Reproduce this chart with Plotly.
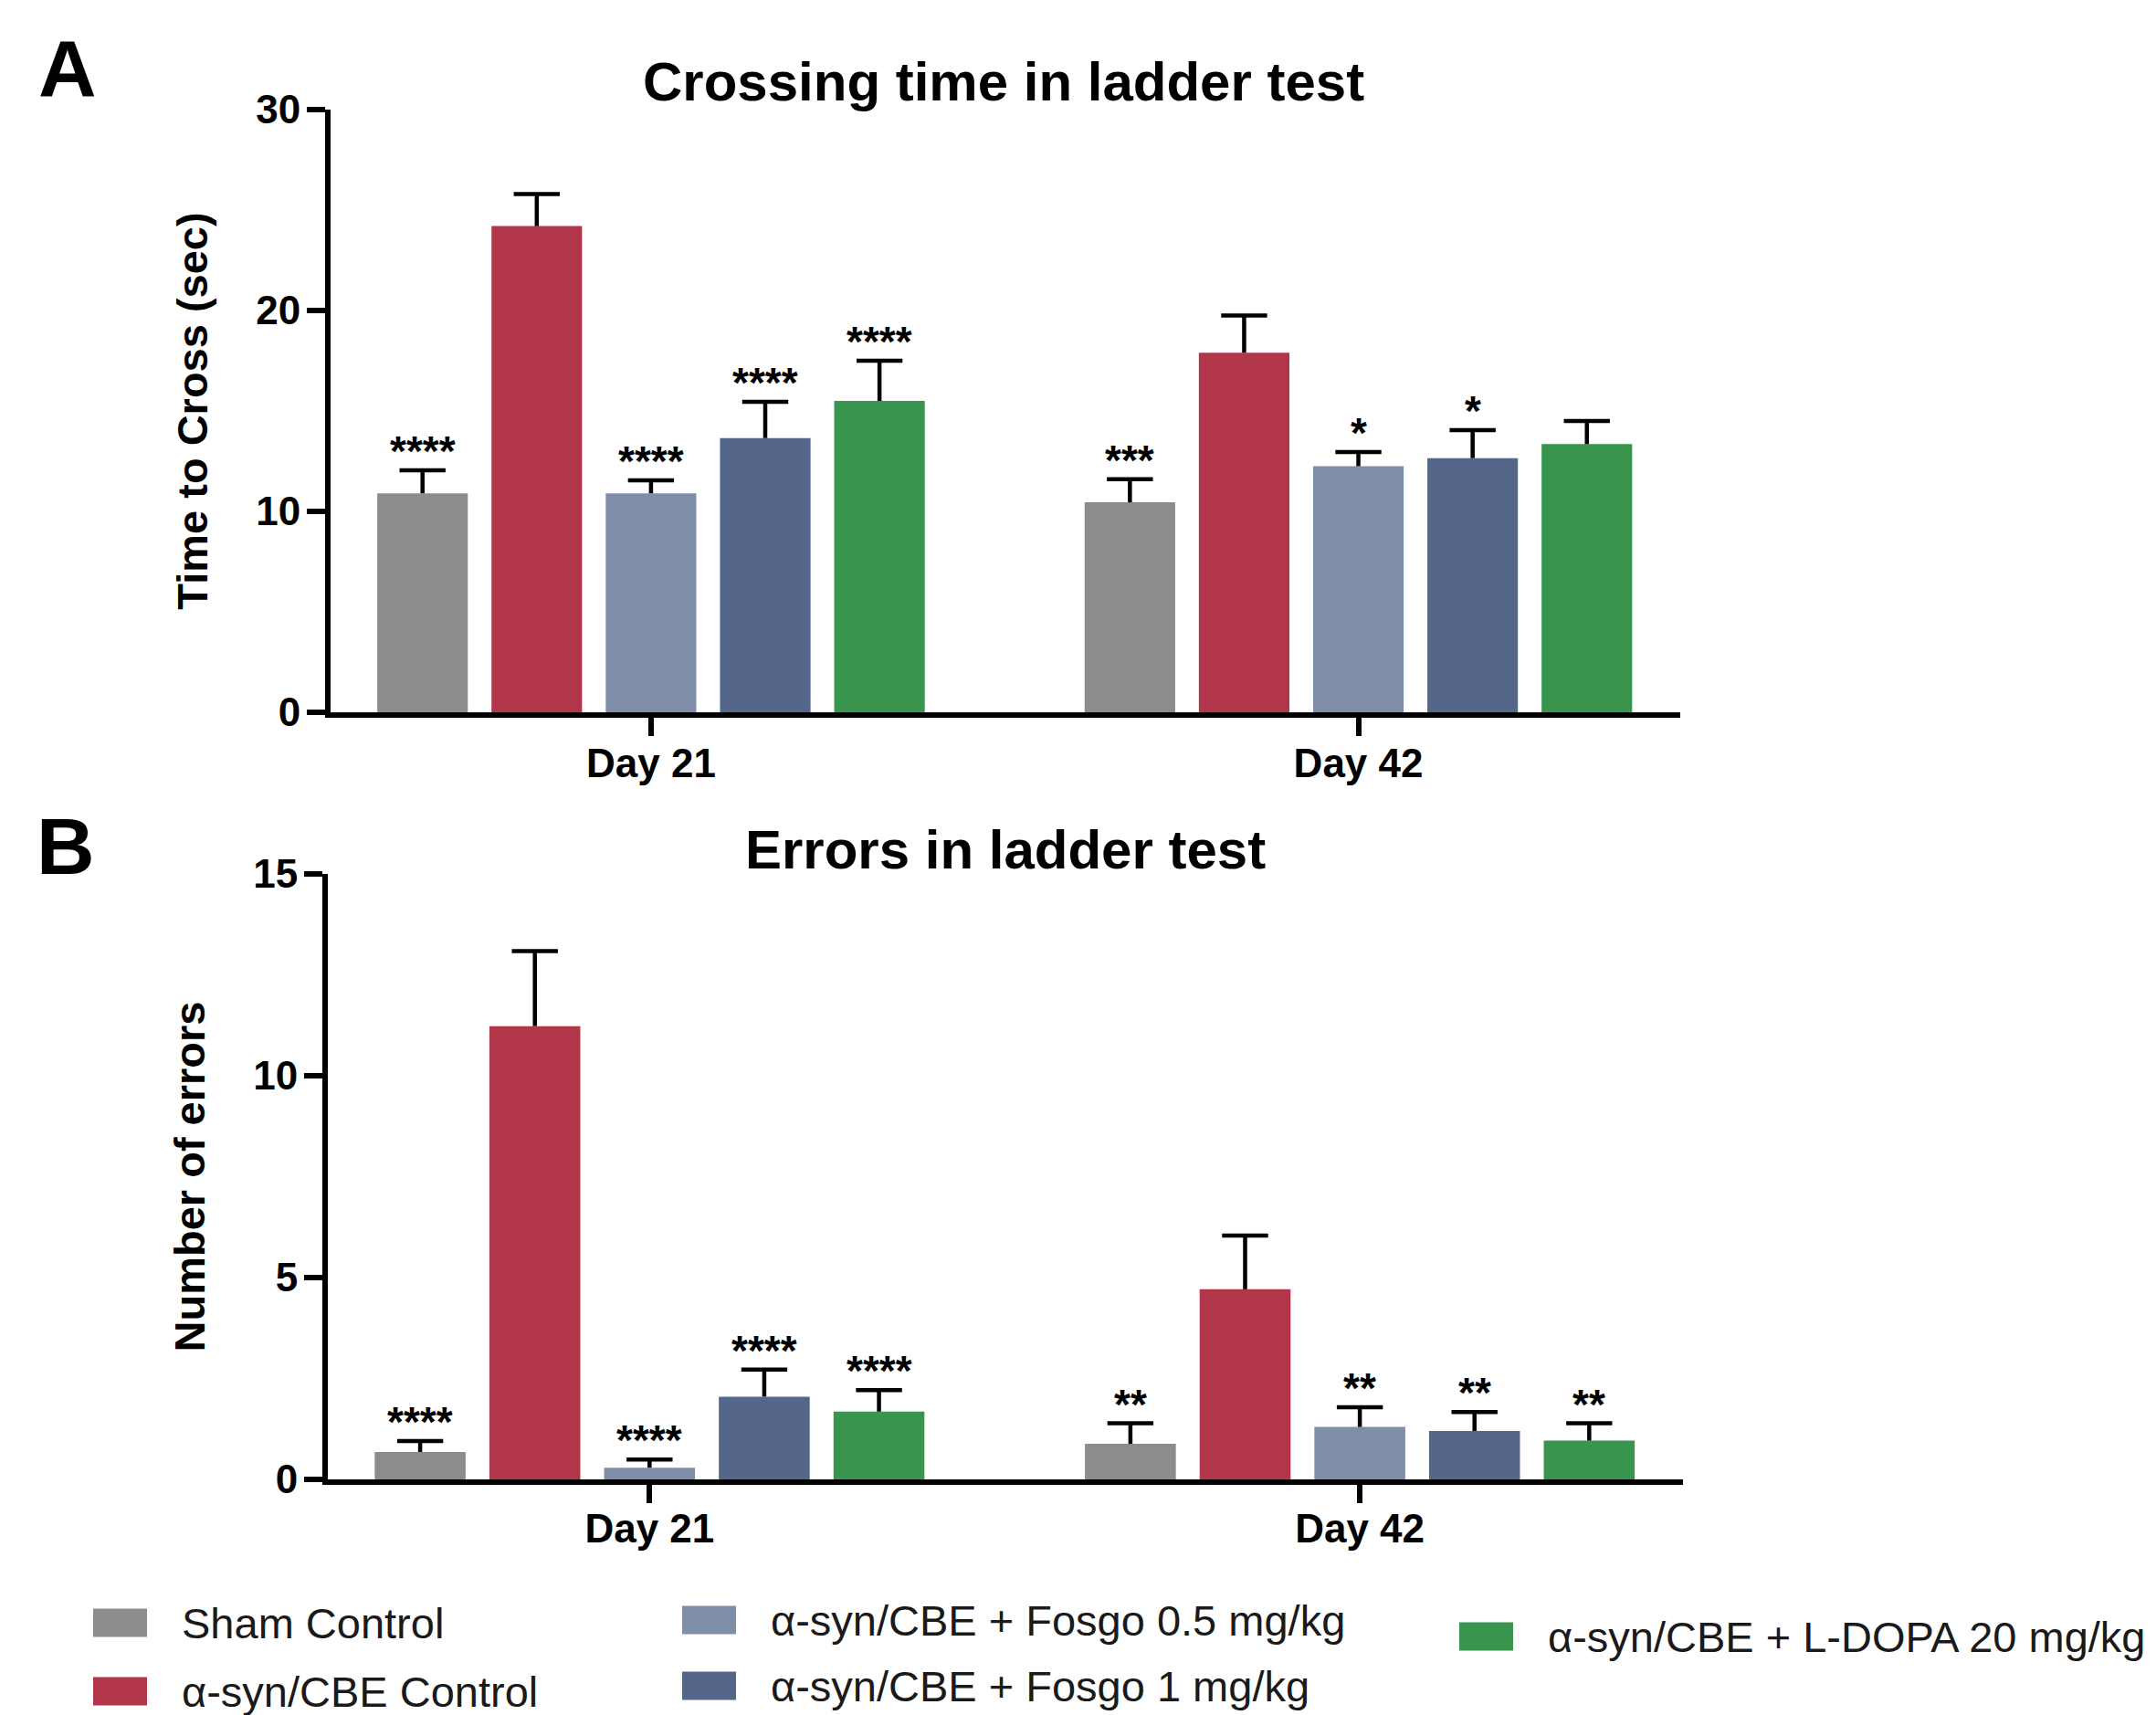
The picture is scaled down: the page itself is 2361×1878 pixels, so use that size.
import plotly.graph_objects as go

# ---------------- data ----------------
days = ["Day 21", "Day 42"]
groups = ["Sham Control", "α-syn/CBE Control", "α-syn/CBE + Fosgo 0.5 mg/kg",
          "α-syn/CBE + Fosgo 1 mg/kg", "α-syn/CBE + L-DOPA 20 mg/kg"]

cross_mean = [[10.9, 10.45], [24.2, 17.9], [10.9, 12.25], [13.65, 12.65], [15.5, 13.35]]
cross_sem = [[1.15, 1.15], [1.6, 1.85], [0.65, 0.7], [1.8, 1.4], [2.0, 1.15]]
cross_stars = [["****", "***"], ["", ""], ["****", "*"], ["****", "*"], ["****", ""]]

err_mean = [[0.68, 0.88], [11.23, 4.71], [0.29, 1.30], [2.05, 1.20], [1.68, 0.96]]
err_sem = [[0.27, 0.51], [1.86, 1.33], [0.20, 0.49], [0.67, 0.47], [0.53, 0.43]]
err_stars = [["****", "**"], ["", ""], ["****", "**"], ["****", "**"], ["****", "**"]]

# ---------------- style ----------------
colors = ["#8C8C8C", "#B13649", "#7F8EA8", "#54668A", "#39944E"]
W, H = 2361, 1878
OX, OY = 8, 8          # page body margin offset
FONT = "Liberation Sans"
slot = 0.1615
bar_w = 0.128


def px_x(p):
    return (p - OX) / W


def px_y(p):
    return 1 - (p - OY) / H


fig = go.Figure()

panels = [
    ("x", "y", cross_mean, cross_sem, cross_stars),
    ("x2", "y2", err_mean, err_sem, err_stars),
]
for xa, ya, means, sems, stars in panels:
    for k, name in enumerate(groups):
        xs = [d + (k - 2) * slot for d in range(len(days))]
        tops = [m + s for m, s in zip(means[k], sems[k])]
        fig.add_trace(go.Bar(
            x=xs, y=means[k], width=bar_w, name=name, showlegend=False,
            marker=dict(color=colors[k], line=dict(width=0)),
            error_y=dict(type="data", symmetric=False, array=sems[k],
                         arrayminus=[0] * len(days), color="black",
                         thickness=4.5, width=0),
            xaxis=xa, yaxis=ya))
        fig.add_trace(go.Scatter(
            x=xs, y=tops, mode="markers", showlegend=False,
            marker=dict(symbol="line-ew", size=36, color="black",
                        line=dict(width=4.5, color="black")),
            xaxis=xa, yaxis=ya, hoverinfo="skip"))
        for xv, tv, st in zip(xs, tops, stars[k]):
            if st:
                fig.add_annotation(x=xv, y=tv, xref=xa, yref=ya, text=st,
                                   showarrow=False, xanchor="center", yanchor="bottom",
                                   yshift=-7,
                                   font=dict(family=FONT, size=46, color="black",
                                             weight="bold"))

axis_common = dict(showline=True, linewidth=6, linecolor="black", ticks="outside",
                   ticklen=20, tickwidth=6, tickcolor="black", showgrid=False,
                   zeroline=False, automargin=False,
                   tickfont=dict(family=FONT, size=44, color="black", weight="bold"))

fig.update_layout(
    template="none",
    width=W, height=H, autosize=False, margin=dict(l=0, r=0, t=0, b=0, pad=0),
    paper_bgcolor="white", plot_bgcolor="white", barmode="overlay", showlegend=False,
    xaxis=dict(domain=[px_x(362), px_x(1840)], range=[-0.453, 1.455],
               tickvals=[0, 1], ticktext=days, anchor="y", ticklabelstandoff=-8,
               **axis_common),
    yaxis=dict(domain=[px_y(780), px_y(120)], range=[0, 30], tickvals=[0, 10, 20, 30],
               anchor="x", ticklabelstandoff=-2,
               title=dict(text="Time to Cross (sec)", standoff=40,
                          font=dict(family=FONT, size=47, color="black", weight="bold")),
               **axis_common),
    xaxis2=dict(domain=[px_x(359), px_x(1843)], range=[-0.453, 1.455],
                tickvals=[0, 1], ticktext=days, anchor="y2", ticklabelstandoff=-10,
                **axis_common),
    yaxis2=dict(domain=[px_y(1620), px_y(957)], range=[0, 15], tickvals=[0, 5, 10, 15],
                anchor="x2", ticklabelstandoff=-2,
                title=dict(text="Number of errors", standoff=40,
                           font=dict(family=FONT, size=47, color="black", weight="bold")),
                **axis_common),
)

# titles and panel letters
texts = [
    ("Crossing time in ladder test", 1099, 90, 60),
    ("Errors in ladder test", 1101, 930, 60),
    ("A", 74, 74, 88),
    ("B", 72, 927, 88),
]
for t, x, y, s in texts:
    fig.add_annotation(text=t, x=px_x(x), y=px_y(y), xref="paper", yref="paper",
                       xanchor="center", yanchor="middle", showarrow=False,
                       font=dict(family=FONT, size=s, color="black", weight="bold"))

# manual legend (swatch + label) per series
legend_pos = [(102, 1777), (102, 1852), (747, 1774), (747, 1846), (1598, 1792)]
sw_w, sw_h, gap = 59, 31, 36
for k, name in enumerate(groups):
    lx, ly = legend_pos[k]
    fig.add_shape(type="rect", xref="paper", yref="paper",
                  x0=px_x(lx), x1=px_x(lx + sw_w), y0=px_y(ly + sw_h / 2), y1=px_y(ly - sw_h / 2),
                  fillcolor=colors[k], line=dict(width=0))
    fig.add_annotation(text=name, x=px_x(lx + sw_w + gap), y=px_y(ly), xref="paper", yref="paper",
                       xanchor="left", yanchor="middle", showarrow=False,
                       font=dict(family=FONT, size=47, color="#1a1a1a"))

fig.write_html("out.html")
